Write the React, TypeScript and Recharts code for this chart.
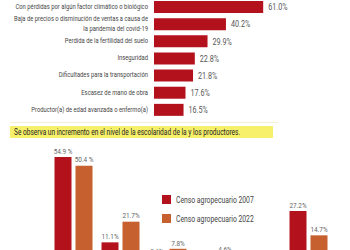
import { BarChart, Bar, XAxis, YAxis, LabelList } from 'recharts';

// Problemas reportados por las unidades de producción
const problemas = [
  'Con pérdidas por algún factor climático o biológico',
  'Baja de precios o disminución de ventas a causa de|la pandemia del covid-19',
  'Perdida de la fertilidad del suelo',
  'Inseguridad',
  'Dificultades para la transportación',
  'Escasez de mano de obra',
  'Productor(a) de edad avanzada o enfermo(a)',
];
const problemasPct = [61.0, 40.2, 29.9, 22.8, 21.8, 17.6, 16.5];

// Escolaridad de las y los productores, por censo
const niveles = ['Primaria', 'Secundaria', 'Preparatoria', 'Licenciatura', 'Posgrado', 'Sin escolaridad'];
const censo2007 = [54.9, 11.1, 3.6, 3.1, 0.3, 27.2];
const censo2022 = [50.4, 21.7, 7.8, 4.6, 0.6, 14.7];
const nivelesConEspacio = ['Primaria'];

const censos = [
  { key: 'c2007', label: 'Censo agropecuario 2007', color: '#b3121c' },
  { key: 'c2022', label: 'Censo agropecuario 2022', color: '#c6602f' },
];

const heading = 'Se observa un incremento en el nivel de la escolaridad de la y los productores.';

const FONT = "Roboto, 'Noto Sans', sans-serif";
const SQUEEZE = 0.8;

const problemasData = problemas.map((name, i) => ({ name, value: problemasPct[i] }));
const escolaridadData = niveles.map((name, i) => ({
  name,
  c2007: censo2007[i],
  c2022: censo2022[i],
}));

// svg text squeezed horizontally to get a condensed face
const Narrow = ({ x, y, anchor = 'start', size, fill, squeeze = SQUEEZE, children }: any) => (
  <text
    transform={`translate(${x},${y}) scale(${squeeze},1)`}
    textAnchor={anchor}
    fontSize={size}
    fill={fill}
    fontFamily={FONT}
    dominantBaseline="central"
  >
    {children}
  </text>
);

const ProblemTick = ({ x, y, payload }: any) => {
  const lines = String(payload.value).split('|');
  const start = y - ((lines.length - 1) * 10) / 2;
  return (
    <g>
      {lines.map((l, i) => (
        <Narrow key={i} x={x} y={start + i * 10} anchor="end" size={7.5} fill="#444" squeeze={0.78}>
          {l}
        </Narrow>
      ))}
    </g>
  );
};

const ProblemValue = (props: any) => {
  const { x, y, width, height, value } = props;
  return (
    <Narrow x={x + width + 5} y={y + height / 2} size={9} fill="#555">
      {`${Number(value).toFixed(1)}%`}
    </Narrow>
  );
};

const NivelValue = (props: any) => {
  const { x, y, width, value, index } = props;
  const sep = nivelesConEspacio.includes(niveles[index]) ? ' %' : '%';
  return (
    <Narrow x={x + width / 2} y={y - 6} anchor="middle" size={8} fill="#666">
      {`${Number(value).toFixed(1)}${sep}`}
    </Narrow>
  );
};

export default function App() {
  return (
    <div
      style={{
        position: 'absolute',
        left: 0,
        top: 0,
        width: 350,
        height: 250,
        overflow: 'hidden',
        background: '#fff',
      }}
    >
      <div style={{ position: 'absolute', left: 0, top: -2 }}>
        <BarChart
          width={350}
          height={120}
          data={problemasData}
          layout="vertical"
          margin={{ top: 0, right: 17, bottom: 0, left: 0 }}
        >
          <XAxis type="number" domain={[0, 100]} hide />
          <YAxis
            type="category"
            dataKey="name"
            width={154}
            tickLine={false}
            axisLine={false}
            tickSize={0}
            tickMargin={6}
            interval={0}
            tick={<ProblemTick />}
          />
          <Bar dataKey="value" fill={censos[0].color} barSize={12} isAnimationActive={false}>
            <LabelList dataKey="value" content={<ProblemValue />} />
          </Bar>
        </BarChart>
      </div>

      <div style={{ position: 'absolute', left: 10, top: 122, width: 268, height: 1, background: '#f4f1d2' }} />

      <div
        style={{
          position: 'absolute',
          left: 10,
          top: 126,
          width: 263,
          height: 12,
          background: '#f7f06a',
          fontFamily: FONT,
          fontSize: 8.5,
          lineHeight: '12px',
          color: '#222',
          paddingLeft: 4,
          boxSizing: 'border-box',
          whiteSpace: 'nowrap',
          overflow: 'hidden',
        }}
      >
        <span style={{ display: 'inline-block', transform: 'scaleX(0.77)', transformOrigin: 'left center' }}>
          {heading}
        </span>
      </div>

      <div style={{ position: 'absolute', left: 0, top: 147 }}>
        <BarChart
          width={350}
          height={147}
          data={escolaridadData}
          margin={{ top: 0, right: 18.5, bottom: 30, left: 49.5 }}
          barSize={17}
          barGap={4}
        >
          <XAxis dataKey="name" hide />
          <YAxis domain={[0, 60]} hide />
          {censos.map((c) => (
            <Bar key={c.key} dataKey={c.key} fill={c.color} isAnimationActive={false}>
              <LabelList dataKey={c.key} content={<NivelValue />} />
            </Bar>
          ))}
        </BarChart>
      </div>

      <div style={{ position: 'absolute', left: 162, top: 190, fontFamily: FONT, fontSize: 8.5, color: '#444' }}>
        {censos.map((c) => (
          <div key={c.key} style={{ display: 'flex', alignItems: 'center', height: 19, whiteSpace: 'nowrap' }}>
            <span style={{ width: 9, height: 9, background: c.color, marginRight: 5, display: 'inline-block' }} />
            <span style={{ display: 'inline-block', transform: `scaleX(${SQUEEZE})`, transformOrigin: 'left center' }}>
              {c.label}
            </span>
          </div>
        ))}
      </div>
    </div>
  );
}
